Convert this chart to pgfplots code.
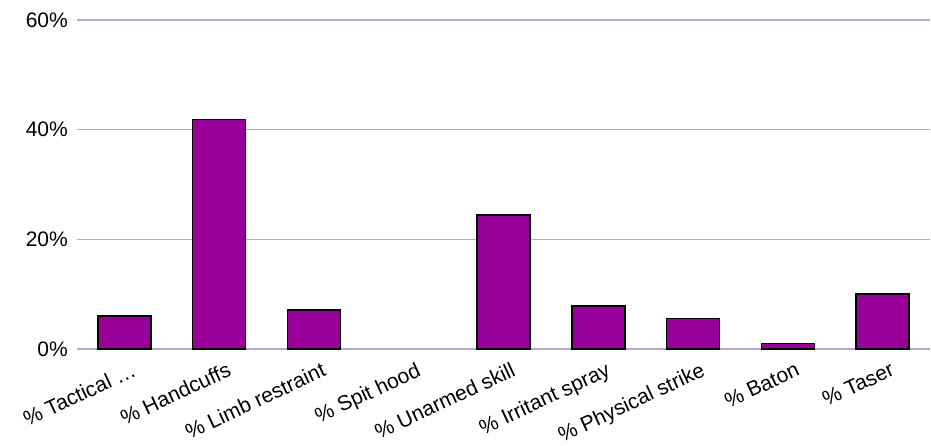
\documentclass[border=0pt]{standalone}
\usepackage{pgfplots}
\pgfplotsset{compat=1.18}
\usepackage{fontspec}
\setmainfont{Liberation Sans}
\definecolor{barpurple}{HTML}{990099}
\definecolor{gridlav}{HTML}{ADADD0}
\begin{document}
\begin{tikzpicture}
\useasboundingbox (-77pt,-96pt) rectangle (854pt,349pt);
\begin{axis}[
  at={(0,0)}, anchor=south west,
  scale only axis=true,
  width=853pt, height=329pt,
  xmin=-0.5, xmax=8.5,
  ymin=0, ymax=60,
  ytick={0,20,40,60},
  yticklabel={\pgfmathprintnumber{\tick}\%},
  xtick={0,...,8},
  xticklabels={{\% Tactical …},{\% Handcuffs},{\% Limb restraint},{\% Spit hood},{\% Unarmed skill},{\% Irritant spray},{\% Physical strike},{\% Baton},{\% Taser}},
  x tick label style={rotate=25, anchor=north east, xshift=2pt, yshift=-13pt, inner sep=1pt},
  y tick label style={xshift=-8pt, inner sep=1pt},
  ticklabel style={font=\fontsize{21}{24}\selectfont, text=black},
  /pgf/number format/assume math mode=true,
  major tick length=0pt,
  axis line style={draw=none},
  ymajorgrids=true,
  major grid style={draw=gridlav, line width=1.4pt},
  ybar,
  bar width=53pt,
]
% Spit hood is 0% and is drawn with no bar, as in the reference
\addplot[fill=barpurple, draw=black, line width=1.5pt] coordinates {
  (0, 6.0)
  (1, 41.9)
  (2, 7.1)
  (4, 24.4)
  (5, 7.8)
  (6, 5.6)
  (7, 1.0)
  (8, 10.0)
};
\end{axis}
\end{tikzpicture}
\end{document}
